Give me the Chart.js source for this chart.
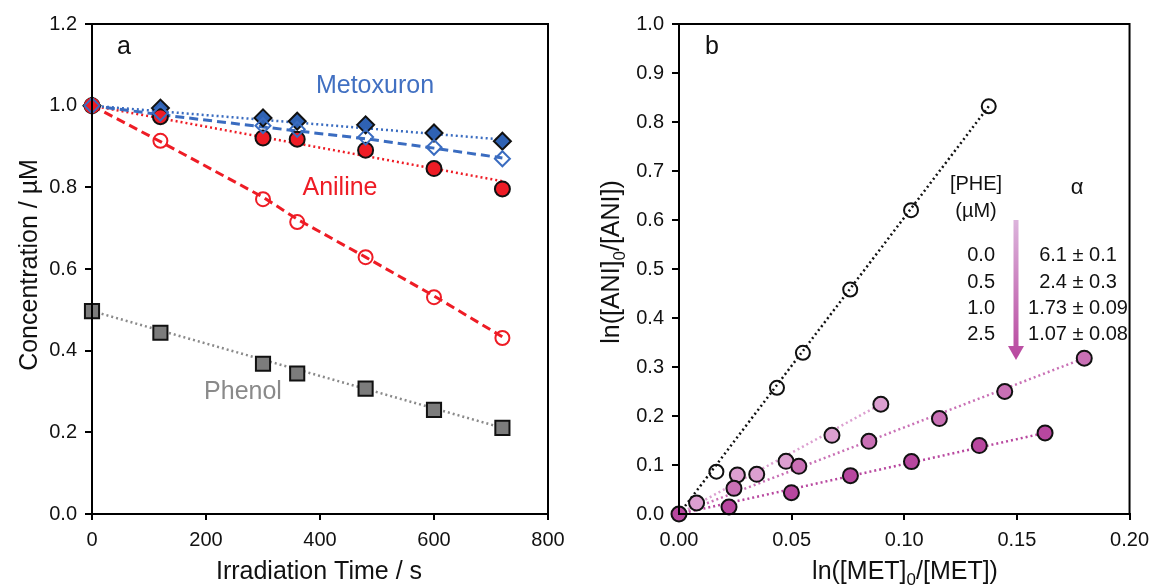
<!DOCTYPE html>
<html><head><meta charset="utf-8">
<script src="https://cdn.jsdelivr.net/npm/chart.js@4/dist/chart.umd.min.js"></script>
<style>
html,body{margin:0;padding:0;background:#fff;}
#wrap{position:relative;width:1157px;height:585px;overflow:hidden;}
.pane{position:absolute;top:0;}
</style></head><body>
<div id="wrap">
<div class="pane" style="left:0;width:580px;height:585px"><canvas id="ca" width="580" height="585"></canvas></div>
<div class="pane" style="left:580px;width:577px;height:585px"><canvas id="cb" width="577" height="585"></canvas></div>
</div>
<script>
// ---------- Panel a data ----------
const timeS = [0, 120, 300, 360, 480, 600, 720];
const metFilled = [1.0, 0.994, 0.970, 0.962, 0.953, 0.933, 0.913];
const metOpen   = [1.0, 0.982, 0.951, 0.942, 0.923, 0.898, 0.870];
const aniFilled = [1.0, 0.973, 0.921, 0.918, 0.891, 0.846, 0.796];
const aniOpen   = [1.0, 0.914, 0.771, 0.715, 0.629, 0.531, 0.431];
const phenol    = [0.497, 0.444, 0.368, 0.344, 0.307, 0.255, 0.211];
// fit lines
const metFilledFitX = [0, 720];      const metFilledFitY = [1.0, 0.917];
const metOpenFitX = [0, 120, 300, 360, 480, 600, 720];
const metOpenFitY = [1.0, 0.978, 0.948, 0.938, 0.919, 0.896, 0.872];
const aniFilledFitX = [0, 720];      const aniFilledFitY = [1.0, 0.815];
const aniOpenFitX = [0, 120, 300, 360, 480, 600, 720];
const aniOpenFitY = [1.0, 0.912, 0.776, 0.722, 0.629, 0.534, 0.434];
const phenolFitX = [0, 720];         const phenolFitY = [0.497, 0.211];

// ---------- Panel b data ----------
const blackX = [0.0166, 0.0435, 0.0550, 0.0760, 0.1030, 0.1375];
const blackY = [0.0864, 0.2575, 0.329, 0.458, 0.620, 0.832];
const phe05X = [0.0078, 0.0259, 0.0345, 0.0475, 0.0679, 0.0896];
const phe05Y = [0.0225, 0.0797, 0.0809, 0.1075, 0.1606, 0.224];
const phe10X = [0.0244, 0.0532, 0.0843, 0.1156, 0.1446, 0.1799];
const phe10Y = [0.0523, 0.0973, 0.1484, 0.1948, 0.250, 0.318];
const phe25X = [0, 0.0222, 0.0499, 0.0761, 0.1032, 0.1333, 0.1625];
const phe25Y = [0, 0.0143, 0.0435, 0.0783, 0.1069, 0.1396, 0.1655];
const blackFitX = [0, 0.1375];  const blackFitY = [0, 0.832];
const phe05FitX = [0, 0.0896];  const phe05FitY = [0, 0.224];
const phe10FitX = [0, 0.1799];  const phe10FitY = [0, 0.318];
const phe25FitX = [0, 0.1625];  const phe25FitY = [0, 0.1655];
const pheConc = ['0.0', '0.5', '1.0', '2.5'];
const alphaVals = ['6.1 \u00b1 0.1', '2.4 \u00b1 0.3', '1.73 \u00b1 0.09', '1.07 \u00b1 0.08'];

const FONT = "'Liberation Sans', Arial, sans-serif";
const BLUE = '#3a6cc0', BLUEFILL = '#2f62b3', RED = '#ee1c25', GRAY = '#8a8a8a', GRAYFILL = '#7c7c7c';
const PK1 = '#dc9fd0', PK2 = '#c970b5', PK3 = '#b8479f';

function pts(xs, ys) { return xs.map((x, i) => ({x: x, y: ys[i]})); }

function lineDS(xs, ys, color, dash, width) {
  return {data: pts(xs, ys), showLine: true, borderColor: color, borderWidth: width || 2.5,
    borderDash: dash, pointRadius: 0, pointHoverRadius: 0, fill: false, order: 10, tension: 0, clip: false};
}
function ptDS(xs, ys, style, r, fill, stroke, bw, ord) {
  return {data: pts(xs, ys), showLine: false, pointStyle: style, pointRadius: r, pointHoverRadius: r,
    backgroundColor: fill, borderColor: stroke, pointBorderWidth: bw || 2, borderWidth: bw || 2,
    order: ord, clip: false};
}

function drawText(ctx, parts, x, y, size, rotate, color) {
  ctx.save();
  ctx.translate(x, y);
  if (rotate) ctx.rotate(-Math.PI / 2);
  ctx.fillStyle = color || '#111';
  ctx.textBaseline = 'middle';
  const subSize = Math.round(size * 0.68);
  let total = 0;
  parts.forEach(p => { ctx.font = (p.sub ? subSize : size) + 'px ' + FONT; p.w = ctx.measureText(p.t).width; total += p.w; });
  let cx = -total / 2;
  parts.forEach(p => {
    ctx.font = (p.sub ? subSize : size) + 'px ' + FONT;
    ctx.textAlign = 'left';
    ctx.fillText(p.t, cx, p.sub ? size * 0.32 : 0);
    cx += p.w;
  });
  ctx.restore();
}

function frame(chart) {
  const a = chart.chartArea, ctx = chart.ctx;
  ctx.save();
  ctx.strokeStyle = '#000'; ctx.lineWidth = 2;
  ctx.strokeRect(a.left, a.top, a.right - a.left, a.bottom - a.top);
  ctx.restore();
}

function commonScales(xmin, xmax, xstep, xdec, ymin, ymax, ystep, ydec, yw) {
  const tickFont = {family: FONT, size: 20};
  return {
    x: {type: 'linear', min: xmin, max: xmax,
      afterFit: s => { s.height = 71; },
      ticks: {stepSize: xstep, color: '#111', font: tickFont, padding: 8, maxRotation: 0,
        callback: v => Number(v).toFixed(xdec)},
      grid: {drawOnChartArea: false, drawTicks: true, tickLength: 6, color: '#000', lineWidth: 2},
      border: {display: true, color: '#000', width: 2}},
    y: {type: 'linear', min: ymin, max: ymax,
      afterFit: s => { s.width = yw; },
      ticks: {stepSize: ystep, color: '#111', font: tickFont, padding: 8,
        callback: v => Number(v).toFixed(ydec)},
      grid: {drawOnChartArea: false, drawTicks: true, tickLength: 7, color: '#000', lineWidth: 2},
      border: {display: true, color: '#000', width: 2}}
  };
}

// ---------- Chart a ----------
new Chart(document.getElementById('ca'), {
  type: 'scatter',
  data: {datasets: [
    lineDS(metFilledFitX, metFilledFitY, BLUE, [2, 3]),
    lineDS(metOpenFitX, metOpenFitY, BLUE, [9, 5], 3),
    lineDS(aniFilledFitX, aniFilledFitY, RED, [2, 3]),
    lineDS(aniOpenFitX, aniOpenFitY, RED, [9, 5], 3),
    lineDS(phenolFitX, phenolFitY, GRAY, [2, 3]),
    ptDS(timeS, phenol, 'rect', 10, GRAYFILL, '#111', 2, 5),
    ptDS(timeS, metFilled, 'rectRot', 8.5, BLUEFILL, '#111', 2, 4),
    ptDS(timeS, aniFilled, 'circle', 7.5, RED, '#111', 2, 3),
    ptDS(timeS, aniOpen, 'circle', 7, 'rgba(0,0,0,0)', RED, 2, 2),
    ptDS(timeS, metOpen, 'rectRot', 7.5, 'rgba(0,0,0,0)', BLUE, 2, 1)
  ]},
  options: {
    responsive: false, animation: false, events: [],
    layout: {padding: {left: 0, right: 32, top: 24, bottom: 0}},
    plugins: {legend: {display: false}, tooltip: {enabled: false}},
    scales: commonScales(0, 800, 200, 0, 0, 1.2, 0.2, 1, 92)
  },
  plugins: [{
    id: 'decoA',
    afterDraw(chart) {
      const ctx = chart.ctx;
      frame(chart);
      drawText(ctx, [{t: 'a'}], 124, 47, 25);
      drawText(ctx, [{t: 'Metoxuron'}], 375, 86, 25, false, '#4170c2');
      drawText(ctx, [{t: 'Aniline'}], 340, 188, 25, false, RED);
      drawText(ctx, [{t: 'Phenol'}], 243, 392, 25, false, GRAY);
      drawText(ctx, [{t: 'Concentration / \u00b5M'}], 30, 265, 25, true);
      drawText(ctx, [{t: 'Irradiation Time / s'}], 319, 572, 25);
    }
  }]
});

// ---------- Chart b ----------
new Chart(document.getElementById('cb'), {
  type: 'scatter',
  data: {datasets: [
    lineDS(blackFitX, blackFitY, '#111', [2, 3]),
    lineDS(phe05FitX, phe05FitY, PK1, [2, 3]),
    lineDS(phe10FitX, phe10FitY, PK2, [2, 3]),
    lineDS(phe25FitX, phe25FitY, PK3, [2, 3]),
    ptDS(blackX, blackY, 'circle', 7, 'rgba(0,0,0,0)', '#111', 2, 4),
    ptDS(phe05X, phe05Y, 'circle', 7.5, PK1, '#111', 2, 3),
    ptDS(phe10X, phe10Y, 'circle', 7.5, PK2, '#111', 2, 2),
    ptDS(phe25X, phe25Y, 'circle', 7.5, PK3, '#111', 2, 1)
  ]},
  options: {
    responsive: false, animation: false, events: [],
    layout: {padding: {left: 0, right: 24, top: 24, bottom: 0}},
    plugins: {legend: {display: false}, tooltip: {enabled: false}},
    scales: commonScales(0, 0.2, 0.05, 2, 0, 1.0, 0.1, 1, 99)
  },
  plugins: [{
    id: 'decoB',
    afterDraw(chart) {
      const ctx = chart.ctx;
      frame(chart);
      const ox = -580;
      drawText(ctx, [{t: 'b'}], 712 + ox, 47, 25);
      drawText(ctx, [{t: 'ln([ANI]'}, {t: '0', sub: true}, {t: '/[ANI])'}], 612 + ox, 262, 25, true);
      drawText(ctx, [{t: 'ln([MET]'}, {t: '0', sub: true}, {t: '/[MET])'}], 905 + ox, 572, 25);
      drawText(ctx, [{t: '[PHE]'}], 976 + ox, 184, 20);
      drawText(ctx, [{t: '(\u00b5M)'}], 976 + ox, 211, 20);
      drawText(ctx, [{t: '\u03b1'}], 1077 + ox, 188, 22);
      const rows = [255, 282, 308, 334];
      ctx.save();
      ctx.font = '20px ' + FONT; ctx.fillStyle = '#111'; ctx.textBaseline = 'middle';
      pheConc.forEach((s, i) => { ctx.textAlign = 'right'; ctx.fillText(s, 995 + ox, rows[i]); });
      alphaVals.forEach((s, i) => { ctx.textAlign = 'center'; ctx.fillText(s, 1078 + ox, rows[i]); });
      // gradient arrow
      const ax = 1016 + ox, top = 220, bot = 360;
      const g = ctx.createLinearGradient(0, top, 0, bot);
      g.addColorStop(0, '#dcb4dc'); g.addColorStop(1, '#b8469e');
      ctx.fillStyle = g;
      ctx.fillRect(ax - 2.5, top, 5, bot - top - 13);
      ctx.beginPath();
      ctx.moveTo(ax - 8, bot - 14); ctx.lineTo(ax + 8, bot - 14); ctx.lineTo(ax, bot); ctx.closePath();
      ctx.fill();
      ctx.restore();
    }
  }]
});
</script>
</body></html>
